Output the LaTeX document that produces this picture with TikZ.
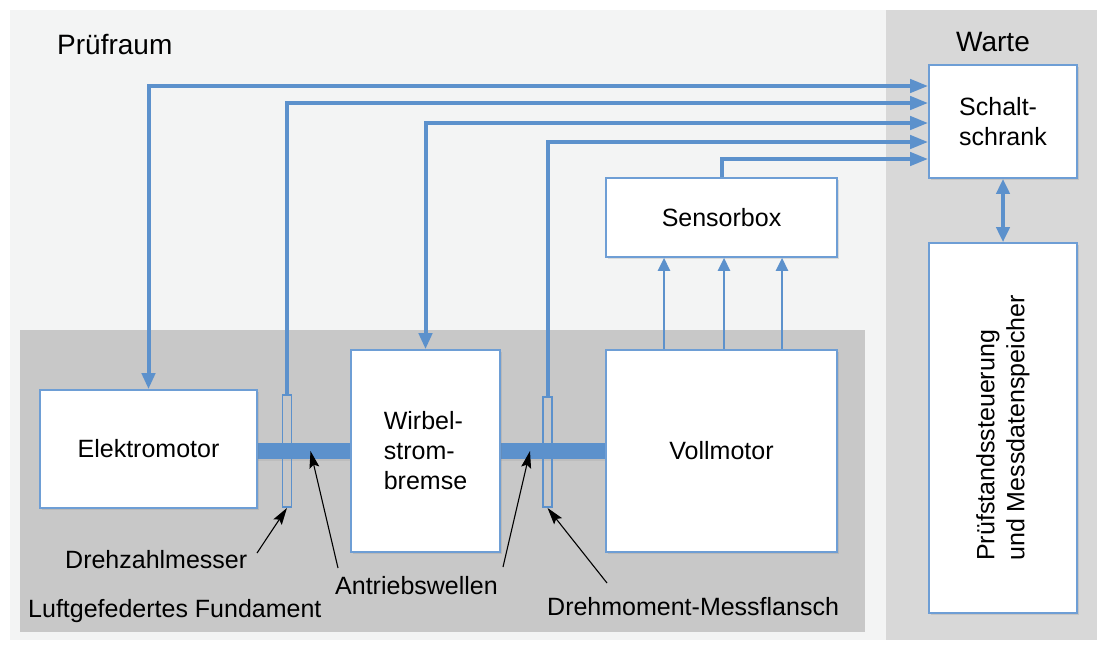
\documentclass[tikz,border=0pt]{standalone}
\usepackage{fontspec}
\setmainfont{Liberation Sans}
\usetikzlibrary{arrows.meta,shadows,calc}
\definecolor{lineblue}{RGB}{92,145,204}
\definecolor{boxblue}{RGB}{110,158,213}
\definecolor{roombg}{RGB}{243,244,244}
\definecolor{wartebg}{RGB}{216,216,216}
\definecolor{fundbg}{RGB}{200,200,200}
\begin{document}
\begin{tikzpicture}[x=1pt,y=-1pt,
  box/.style={draw=boxblue, line width=1.6pt, fill=white, inner sep=0pt,
    font=\fontsize{25}{30}\selectfont,
    drop shadow={opacity=0.22, shadow xshift=1.5pt, shadow yshift=-2pt}},
  txt/.style={font=\fontsize{25}{30}\selectfont, inner sep=0pt},
  titletxt/.style={font=\fontsize{28}{32}\selectfont, inner sep=0pt},
  shaft/.style={fill=lineblue, inner sep=0pt, minimum height=16pt,
    drop shadow={opacity=0.15, shadow xshift=1pt, shadow yshift=-1.5pt}},
  flange/.style={draw=lineblue, line width=1.8pt, inner sep=0pt, minimum width=9pt},
  sig/.style={draw=lineblue, line width=4pt, -{Triangle[length=18pt,width=13pt]}},
  sigboth/.style={draw=lineblue, line width=4pt, {Triangle[length=16pt,width=13pt]}-{Triangle[length=18pt,width=13pt]}},
  sens/.style={draw=lineblue, line width=2.5pt, -{Triangle[length=13pt,width=12pt]}},
  note/.style={draw=black, line width=1.1pt, -{Stealth[length=17pt,width=10pt,inset=3pt]}}
]
\useasboundingbox (0,0) rectangle (1107,646);
% backgrounds
\fill[white] (0,0) rectangle (1107,646);
\fill[roombg] (10,10) rectangle (886,640);
\fill[wartebg] (886,10) rectangle (1097,640);
\fill[fundbg] (20,330) rectangle (865,632);

\node[titletxt, anchor=base west] (pruefraum) at (57,54) {Prüfraum};
\node[titletxt, anchor=base] (warte) at (993,51) {Warte};

% shafts
\node[shaft, minimum width=95pt] (shaft1) at (304.5,451) {};
\node[shaft, minimum width=106pt] (shaft2) at (553,451) {};

% boxes
\node[box, minimum width=217pt, minimum height=118pt] (elek) at (148.5,449) {Elektromotor};
\node[box, minimum width=149pt, minimum height=202pt, align=left] (wirb) at (425.5,451) {Wirbel-\\strom-\\bremse};
\node[box, minimum width=231pt, minimum height=202pt] (voll) at (721.5,451) {Vollmotor};
\node[box, minimum width=231pt, minimum height=79pt] (sensor) at (721.5,217.5) {Sensorbox};
\node[box, minimum width=148pt, minimum height=113pt, align=left] (schalt) at (1003,121.5) {Schalt-\\schrank};
\node[box, minimum width=148pt, minimum height=370pt] (pruef) at (1003,428) {};
\node[txt, rotate=90, align=left] (prueftext) at (pruef.center) {Prüfstandssteuerung\\und Messdatenspeicher};

% flanges
\node[flange, minimum height=112pt] (fl1) at (287,451) {};
\node[flange, minimum height=110pt] (fl2) at (547.5,452) {};

% signal lines to Schaltschrank
\draw[sigboth] (elek.north) |- (schalt.west |- 0,86);
\draw[sig] (fl1.north) |- (schalt.west |- 0,103);
\draw[sigboth] (wirb.north) |- (schalt.west |- 0,123);
\draw[sig] (fl2.north) |- (schalt.west |- 0,142);
\draw[sig] (sensor.north) |- (schalt.west |- 0,159);
\draw[draw=lineblue, line width=4pt, {Triangle[length=15pt,width=13pt]}-{Triangle[length=15pt,width=13pt]}] (schalt.south) -- (pruef.north);

% Vollmotor to Sensorbox
\draw[sens] (voll.north -| 664,0) -- (sensor.south -| 664,0);
\draw[sens] (voll.north -| 724,0) -- (sensor.south -| 724,0);
\draw[sens] (voll.north -| 782,0) -- (sensor.south -| 782,0);

% labels
\node[txt, anchor=base west] (ldzm) at (65,568) {Drehzahlmesser};
\node[txt, anchor=base west] (lfund) at (28,617) {Luftgefedertes Fundament};
\node[txt, anchor=base west] (law) at (335,594) {Antriebswellen};
\node[txt, anchor=base west] (ldmf) at (547,615) {Drehmoment-Messflansch};

\coordinate (cdzm) at (257,553);
\coordinate (caw1) at (338,568);
\coordinate (caw2) at (503,567);
\coordinate (cdmf) at (607,583);
\draw[note] (cdzm) -- (fl1.south);
\draw[note] (caw1) -- ([xshift=6pt]shaft1.center);
\draw[note] (caw2) -- ([xshift=-23pt]shaft2.center);
\draw[note] (cdmf) -- (fl2.south);
\end{tikzpicture}
\end{document}
